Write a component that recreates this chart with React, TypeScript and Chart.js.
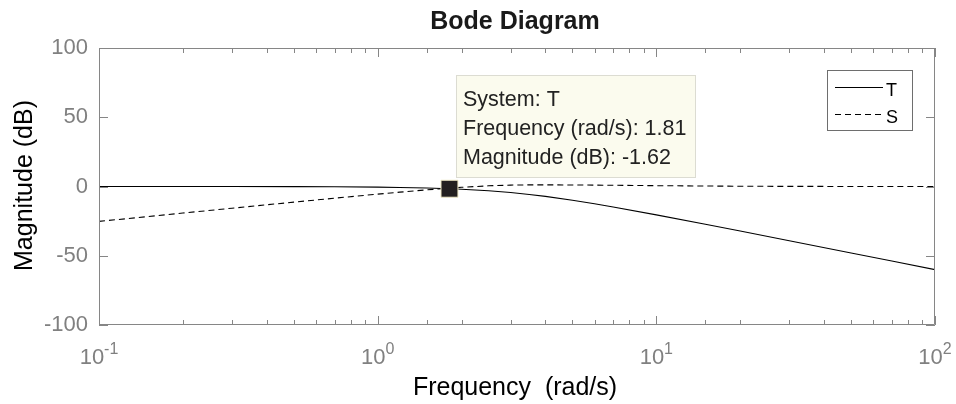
import React, { useEffect, useRef } from 'react';
import { Chart, registerables } from 'chart.js';

Chart.register(...registerables);

// ---- data ----
const frequencies = [0.1, 0.15, 0.2, 0.3, 0.5, 0.7, 1, 1.2, 1.5, 1.81, 2, 2.5, 3, 3.5, 4, 5, 6, 7, 10, 15, 20, 30, 50, 70, 100];
const magnitudeT = [0.0, -0.01, -0.02, -0.04, -0.11, -0.22, -0.46, -0.68, -1.08, -1.62, -1.96, -3.08, -4.37, -5.75, -7.16, -9.92, -12.47, -14.78, -20.46, -27.25, -32.15, -39.13, -47.98, -53.81, -60.0];
const magnitudeS = [-25.2, -21.68, -19.18, -15.68, -11.29, -8.44, -5.51, -4.08, -2.44, -1.19, -0.59, 0.5, 1.0, 1.2, 1.2, 1.1, 1.0, 0.9, 0.6, 0.35, 0.2, 0.09, 0.03, 0.02, 0.01];
const seriesLabels = ['T', 'S'];

const markerSystem = 'T';
const markerFrequency = 1.81;
const markerMagnitude = -1.62;

const xTickValues = [0.1, 1, 10, 100];
const xTickExponents = ['-1', '0', '1', '2'];
const yTickValues = [-100, -50, 0, 50, 100];

const chartTitle = 'Bode Diagram';
const xAxisTitle = 'Frequency  (rad/s)';
const yAxisTitle = 'Magnitude (dB)';

const FONT = '"Liberation Sans", Arial, Helvetica, sans-serif';
const AXIS_GREY = '#868686';
const LABEL_GREY = '#808080';

const bodePlugin = {
  id: 'bodeDecor',
  afterDatasetsDraw(chart: any) {
    const { ctx, chartArea: a, scales } = chart;
    const xs = scales.x;
    const ys = scales.y;
    ctx.save();

    // axes box + inward ticks
    ctx.strokeStyle = AXIS_GREY;
    ctx.lineWidth = 1;
    ctx.beginPath();
    ctx.rect(a.left + 0.5, a.top + 0.5, a.right - a.left - 1, a.bottom - a.top - 1);
    xs.ticks.forEach((t: any) => {
      const lg = Math.log10(t.value);
      const major = Math.abs(lg - Math.round(lg)) < 1e-9;
      const len = major ? 9 : 5;
      const px = Math.round(xs.getPixelForValue(t.value)) + 0.5;
      ctx.moveTo(px, a.bottom);
      ctx.lineTo(px, a.bottom - len);
      ctx.moveTo(px, a.top);
      ctx.lineTo(px, a.top + len);
    });
    yTickValues.forEach((v) => {
      const py = Math.round(ys.getPixelForValue(v)) + 0.5;
      ctx.moveTo(a.left, py);
      ctx.lineTo(a.left + 9, py);
      ctx.moveTo(a.right, py);
      ctx.lineTo(a.right - 9, py);
    });
    ctx.stroke();

    // x tick labels with superscript exponents
    ctx.fillStyle = LABEL_GREY;
    ctx.textBaseline = 'alphabetic';
    ctx.textAlign = 'left';
    xTickValues.forEach((v, i) => {
      const px = xs.getPixelForValue(v);
      ctx.font = `22px ${FONT}`;
      const wb = ctx.measureText('10').width;
      ctx.font = `16px ${FONT}`;
      const we = ctx.measureText(xTickExponents[i]).width;
      const start = px - (wb + we) / 2;
      ctx.font = `22px ${FONT}`;
      ctx.fillText('10', start, a.bottom + 39);
      ctx.font = `16px ${FONT}`;
      ctx.fillText(xTickExponents[i], start + wb, a.bottom + 29);
    });

    // titles
    ctx.textAlign = 'center';
    ctx.font = `bold 25px ${FONT}`;
    ctx.fillStyle = '#1a1a1a';
    ctx.fillText(chartTitle, (a.left + a.right) / 2 - 2, 29);
    ctx.font = `25px ${FONT}`;
    ctx.fillStyle = '#000000';
    ctx.fillText(xAxisTitle, (a.left + a.right) / 2 - 2, 395);
    ctx.save();
    ctx.translate(32, (a.top + a.bottom) / 2 - 1);
    ctx.rotate(-Math.PI / 2);
    ctx.fillText(yAxisTitle, 0, 0);
    ctx.restore();

    ctx.restore();
  },
  afterDraw(chart: any) {
    const { ctx, chartArea: a, scales } = chart;
    const xs = scales.x;
    const ys = scales.y;
    ctx.save();

    // legend
    const lw = 86;
    const lh = 61;
    const lx = a.right - 22 - lw;
    const ly = a.top + 22;
    ctx.fillStyle = '#ffffff';
    ctx.fillRect(lx, ly, lw, lh);
    ctx.strokeStyle = '#6e6e6e';
    ctx.lineWidth = 1;
    ctx.strokeRect(lx + 0.5, ly + 0.5, lw - 1, lh - 1);
    ctx.font = `18px ${FONT}`;
    ctx.fillStyle = '#000000';
    ctx.textAlign = 'left';
    ctx.textBaseline = 'alphabetic';
    seriesLabels.forEach((lab, i) => {
      const yy = ly + 17.5 + i * 27;
      ctx.beginPath();
      ctx.strokeStyle = '#000000';
      ctx.lineWidth = 1;
      ctx.setLineDash(i === 0 ? [] : [6, 4]);
      ctx.moveTo(lx + 8, yy);
      ctx.lineTo(lx + 56, yy);
      ctx.stroke();
      ctx.setLineDash([]);
      ctx.fillText(lab, lx + 59, yy + 8);
    });

    // data tip
    const mx = xs.getPixelForValue(markerFrequency);
    const my = ys.getPixelForValue(markerMagnitude);
    const tipLines = [
      `System: ${markerSystem}`,
      `Frequency (rad/s): ${markerFrequency.toFixed(2)}`,
      `Magnitude (dB): ${markerMagnitude.toFixed(2)}`,
    ];
    ctx.font = `21.5px ${FONT}`;
    const tw = Math.max(...tipLines.map((s) => ctx.measureText(s).width));
    const bx = Math.round(mx + 7);
    const by = Math.round(my - 114);
    const bw = Math.round(tw + 17);
    const bh = 103;
    ctx.fillStyle = '#fbfbee';
    ctx.fillRect(bx, by, bw, bh);
    ctx.strokeStyle = '#dcdcd2';
    ctx.strokeRect(bx + 0.5, by + 0.5, bw - 1, bh - 1);
    ctx.fillStyle = '#222222';
    tipLines.forEach((s, i) => {
      ctx.fillText(s, bx + 7, by + 31 + i * 29);
    });

    ctx.restore();
  },
};

export default function App() {
  const canvasRef = useRef<HTMLCanvasElement | null>(null);

  useEffect(() => {
    const canvas = canvasRef.current;
    if (!canvas) return;
    const chart = new Chart(canvas, {
      type: 'line',
      data: {
        datasets: [
          {
            label: 'marker',
            data: [{ x: markerFrequency, y: markerMagnitude }],
            showLine: false,
            pointStyle: 'rect',
            pointRadius: 12,
            pointBackgroundColor: '#231f20',
            pointBorderColor: '#efe9c6',
            pointBorderWidth: 1,
            order: 0,
          },
          {
            label: seriesLabels[0],
            data: frequencies.map((f, i) => ({ x: f, y: magnitudeT[i] })),
            borderColor: '#000000',
            borderWidth: 1.1,
            pointRadius: 0,
            tension: 0,
            order: 1,
          },
          {
            label: seriesLabels[1],
            data: frequencies.map((f, i) => ({ x: f, y: magnitudeS[i] })),
            borderColor: '#000000',
            borderWidth: 1.1,
            borderDash: [6, 4],
            pointRadius: 0,
            tension: 0,
            order: 2,
          },
        ],
      },
      options: {
        animation: false,
        responsive: false,
        events: [],
        layout: { padding: { top: 48, right: 21, bottom: 0, left: 0 } },
        plugins: {
          legend: { display: false },
          tooltip: { enabled: false },
          title: { display: false },
        },
        scales: {
          x: {
            type: 'logarithmic',
            min: 0.1,
            max: 100,
            grid: { display: false, drawTicks: false },
            border: { display: false },
            ticks: { display: false, autoSkip: false },
            afterFit: (s: any) => {
              s.height = 79;
            },
          },
          y: {
            type: 'linear',
            min: -100,
            max: 100,
            grid: { display: false, drawTicks: false },
            border: { display: false },
            afterBuildTicks: (s: any) => {
              s.ticks = yTickValues.map((v) => ({ value: v }));
            },
            ticks: {
              color: LABEL_GREY,
              padding: 11,
              font: { family: FONT, size: 22 },
            },
            afterFit: (s: any) => {
              s.width = 99;
            },
          },
        },
      },
      plugins: [bodePlugin],
    });
    return () => chart.destroy();
  }, []);

  return (
    <div style={{ position: 'absolute', left: 0, top: 0, width: 956, height: 404, background: '#ffffff' }}>
      <canvas ref={canvasRef} width={956} height={404} style={{ display: 'block' }} />
    </div>
  );
}
